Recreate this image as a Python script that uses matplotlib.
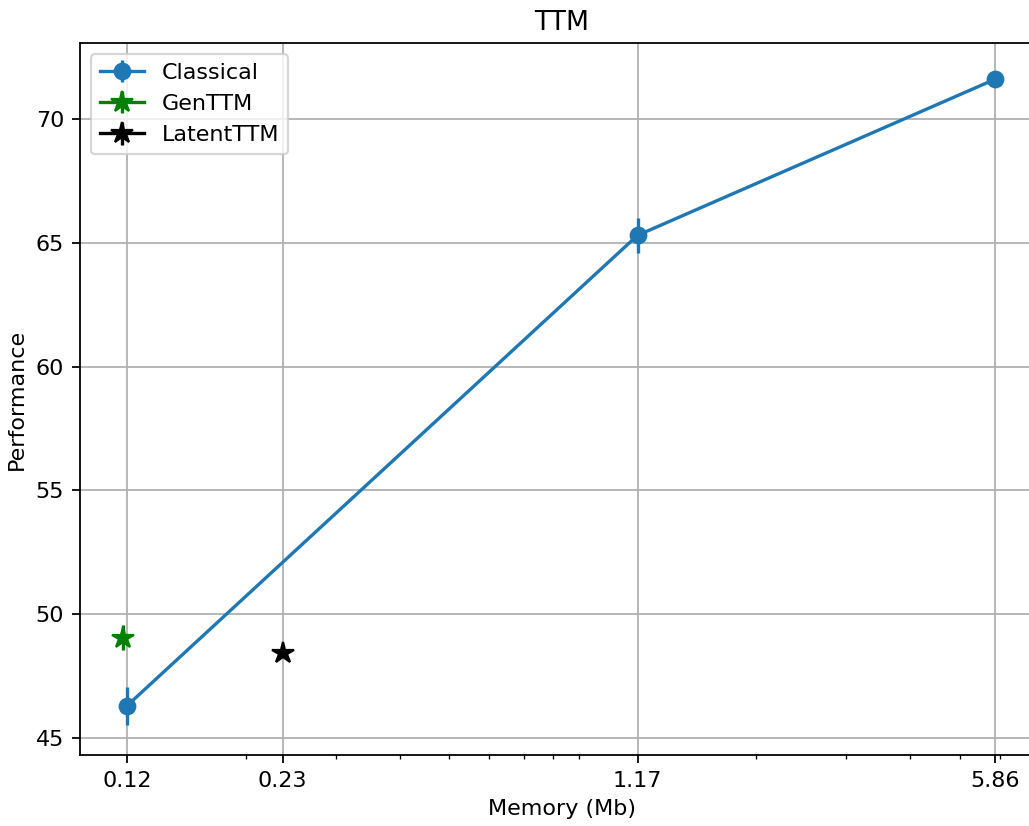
import matplotlib
matplotlib.use("Agg")
import matplotlib.pyplot as plt

# memory (Mb) and performance
classical_mem = [0.117, 1.17, 5.86]
classical_perf = [46.3, 65.3, 71.6]
classical_err = [0.77, 0.7, 0.0]

gen_mem = [0.115]
gen_perf = [49.05]
gen_err = [0.5]

latent_mem = [0.236]
latent_perf = [48.45]
latent_err = [0.0]

tick_vals = [0.117, 0.236, 1.17, 5.86]
tick_labels = ["0.12", "0.23", "1.17", "5.86"]

fig = plt.figure(figsize=(1029 / 160, 826 / 160), dpi=160)
# right spine falls just outside the canvas, as in the cropped original
ax = fig.add_axes([79.6 / 1029, 71 / 826, 965 / 1029, 712 / 826])

ax.errorbar(classical_mem, classical_perf, yerr=classical_err, marker="o",
            markersize=7, color="C0", label="Classical")
ax.errorbar(gen_mem, gen_perf, yerr=gen_err, marker="*", markersize=10,
            color="green", label="GenTTM")
ax.errorbar(latent_mem, latent_perf, yerr=latent_err, marker="*",
            markersize=10, color="black", label="LatentTTM")

ax.set_xscale("log")
ax.set_xlim(10 ** -1.0247, 10 ** (-1.0247 + 965 / 510.5))
ax.set_ylim(44.31, 73.07)
ax.set_xticks(tick_vals)
ax.set_xticklabels(tick_labels)
ax.set_xlabel("Memory (Mb)")
ax.set_ylabel("Performance")
ax.set_title("TTM")
ax.grid(True)
ax.legend(loc="upper left")

fig.savefig("out.png", dpi=160)
